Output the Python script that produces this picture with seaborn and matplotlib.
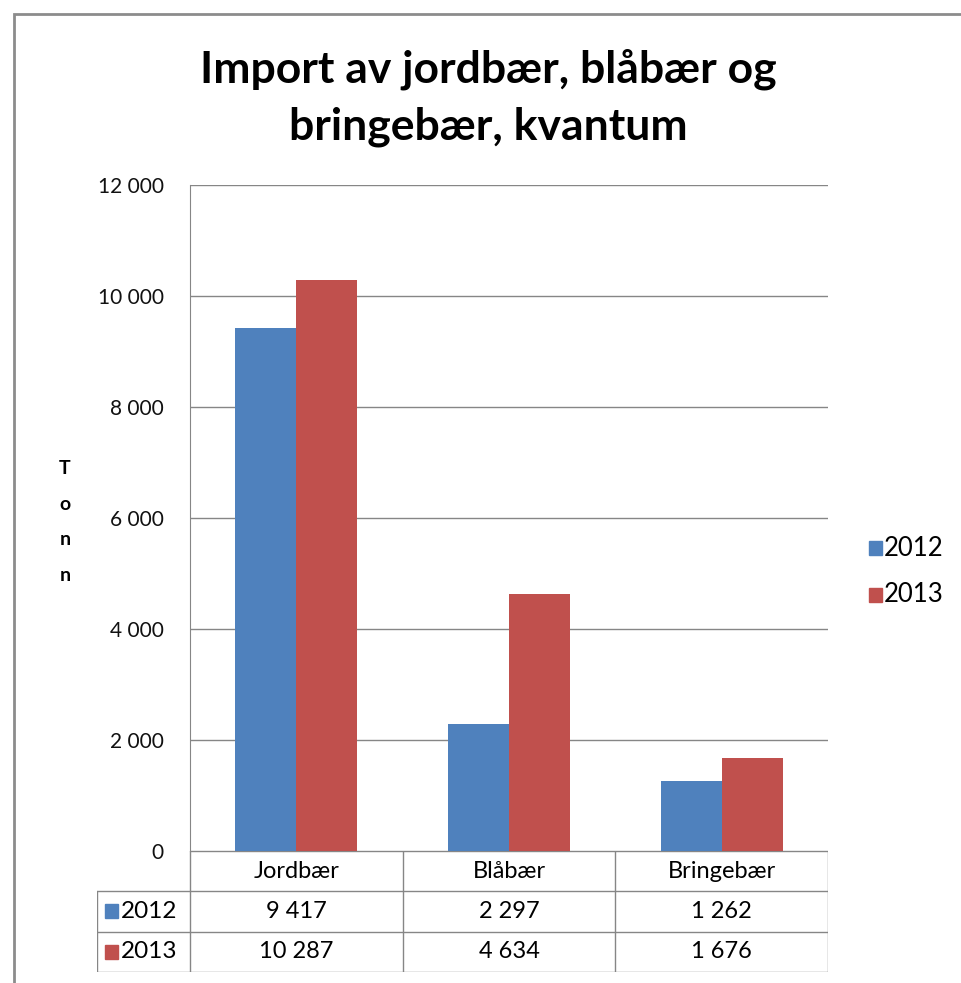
import pandas as pd
import matplotlib.pyplot as plt
import seaborn as sns
from matplotlib.patches import Rectangle

# =======================
# Data
# =======================
categories = ["Jordbær", "Blåbær", "Bringebær"]
years = ["2012", "2013"]
values_2012 = [9417, 2297, 1262]
values_2013 = [10287, 4634, 1676]
table_2012 = ["9 417", "2 297", "1 262"]
table_2013 = ["10 287", "4 634", "1 676"]
yticks = [0, 2000, 4000, 6000, 8000, 10000, 12000]
colors = ["#4F81BD", "#C0504D"]

df = pd.DataFrame({
    "frukt": categories * 2,
    "aar": [years[0]] * 3 + [years[1]] * 3,
    "tonn": values_2012 + values_2013,
})

sns.set_style("white")
plt.rcParams["font.family"] = ["Lato", "DejaVu Sans"]
plt.rcParams["text.color"] = "black"
plt.rcParams["ytick.color"] = "black"

W, H = 962, 983
fig = plt.figure(figsize=(W / 100, H / 100), dpi=100)


def fx(px):
    return px / W


def fy(py):
    return 1 - py / H


# outer chart frame
fig.add_artist(Rectangle((fx(14), fy(990)), fx(990), fy(14) - fy(990),
                         transform=fig.transFigure, fill=False,
                         edgecolor="#8c8c8c", lw=2))

# =======================
# Main bar chart
# =======================
L, R, T, B = 190, 828, 185, 851
ax = fig.add_axes([fx(L), fy(B), fx(R) - fx(L), fy(T) - fy(B)])
sns.barplot(data=df, x="frukt", y="tonn", hue="aar", palette=colors,
            width=0.575, saturation=1, ax=ax, legend=False)
ax.set_ylim(0, 12000)
ax.set_xlim(-0.5, 2.5)
ax.set_yticks(yticks)
ax.set_yticklabels([f"{v:,}".replace(",", " ") for v in yticks], fontsize=15)
ax.tick_params(axis="y", length=0, pad=19, labelcolor="#111111")
ax.set_xticks([])
ax.set_xlabel("")
ax.set_ylabel("")
ax.yaxis.grid(True, color="#868686", lw=1)
ax.set_axisbelow(True)
for s in ["top", "right", "bottom"]:
    ax.spines[s].set_visible(False)
ax.spines["left"].set_color("#868686")
for p in ax.patches:
    p.set_edgecolor("none")

# title
fig.text(0.508, fy(98), "Import av jordbær, blåbær og\nbringebær, kvantum",
         ha="center", va="center", fontsize=32, fontweight="bold",
         linespacing=1.5)

# y label: stacked letters
fig.text(fx(65), fy(522), "T\no\nn\nn", ha="center", va="center",
         fontsize=14, fontweight="bold", linespacing=2.35)

# legend
for i, (yr, c) in enumerate(zip(years, colors)):
    ypx = 548 + i * 47
    fig.add_artist(Rectangle((fx(869), fy(ypx + 7)), fx(13), fy(ypx - 7) - fy(ypx + 7),
                             transform=fig.transFigure, color=c))
    fig.text(fx(884), fy(ypx), yr, ha="left", va="center", fontsize=18.5)

# =======================
# Data table
# =======================
TL, TB = 97, 972
tab = fig.add_axes([fx(TL), fy(TB), fx(R) - fx(TL), fy(B) - fy(TB)])
tab.set_xlim(TL, R)
tab.set_ylim(TB, B)
tab.axis("off")
grey = "#868686"
col_w = (R - L) / len(categories)
row_h = (TB - B) / 3
edges = [L + i * col_w for i in range(len(categories) + 1)]
# horizontal lines
tab.plot([L, R], [B, B], color=grey, lw=1)
for k in (1, 2, 3):
    tab.plot([TL, R], [B + k * row_h] * 2, color=grey, lw=1)
# vertical lines
for e in edges:
    tab.plot([e, e], [B, TB], color=grey, lw=1)
tab.plot([TL, TL], [B + row_h, TB], color=grey, lw=1)

for i, name in enumerate(categories):
    cx = edges[i] + col_w / 2
    tab.text(cx, B + row_h / 2, name, ha="center", va="center", fontsize=17)
    tab.text(cx, B + 1.5 * row_h, table_2012[i], ha="center", va="center", fontsize=17)
    tab.text(cx, B + 2.5 * row_h, table_2013[i], ha="center", va="center", fontsize=17)
for k, (yr, c) in enumerate(zip(years, colors)):
    yc = B + (1.5 + k) * row_h
    tab.add_patch(Rectangle((105, yc - 7), 13, 14, color=c))
    tab.text(121, yc, yr, ha="left", va="center", fontsize=17.5)

fig.savefig("out.png", dpi=100, facecolor="white")
